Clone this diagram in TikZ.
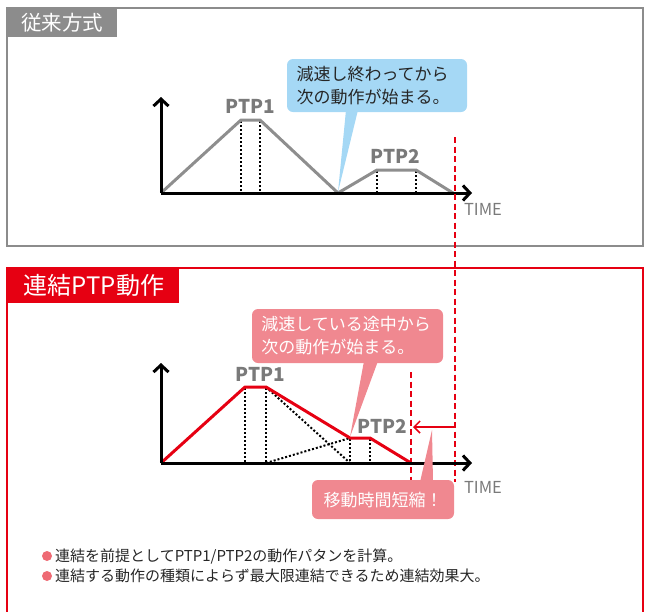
\documentclass[tikz,border=0pt]{standalone}
\usepackage{fontspec}
\setmainfont{Noto Sans CJK JP}
\usetikzlibrary{arrows.meta}
\definecolor{framegray}{HTML}{8C8C8C}
\definecolor{trajgray}{HTML}{8E8E8E}
\definecolor{labgray}{HTML}{7A7A7A}
\definecolor{mred}{HTML}{E60012}
\definecolor{bubbleblue}{HTML}{A5D8F5}
\definecolor{bubblepink}{HTML}{F08890}
\definecolor{txt}{HTML}{262626}
\definecolor{bulletpink}{HTML}{EE6A74}
\begin{document}
\begin{tikzpicture}[x=1pt,y=-1pt,
  axisline/.style={line width=3pt,black,-{Straight Barb[length=7pt,width=15pt,line width=3pt]}},
  dotline/.style={line width=2pt,black,dash pattern=on 2pt off 2pt},
  graytraj/.style={line width=3pt,trajgray,line join=round},
  redtraj/.style={line width=3pt,mred,line join=round},
  reddash/.style={line width=1.4pt,mred,dash pattern=on 6pt off 3.5pt},
  ptplab/.style={font=\fontsize{19}{19}\selectfont\bfseries,text=labgray,inner sep=0pt},
  timelab/.style={font=\fontsize{16.5}{16.5}\selectfont,text=labgray,inner sep=0pt},
  bubtxt/.style={font=\fontsize{17}{23}\selectfont,align=left,inner sep=0pt},
  bultxt/.style={font=\fontsize{15}{15}\selectfont,text=txt,anchor=west,inner sep=0pt},
  tabtxt/.style={text=white,inner sep=0pt}]
\useasboundingbox (0,0) rectangle (650,611);
% ---------- frames ----------
\draw[framegray,line width=2.5pt] (7,8) rectangle (643,246);
\fill[framegray] (6,7) rectangle (117,37);
\node[tabtxt,font=\fontsize{20.5}{20.5}\selectfont] (tabA) at (62,23) {従来方式};
\draw[mred,line width=2.5pt] (7,612) -- (7,268) -- (643,268) -- (643,612);
\fill[mred] (6,267) rectangle (179,303);
\node[tabtxt,font=\fontsize{24}{24}\selectfont] (tabB) at (94,285) {連結PTP動作};
% ---------- top plot ----------
\draw[dotline] (241,121) -- (241,193);
\draw[dotline] (260,121) -- (260,193);
\draw[dotline] (377,171) -- (377,193);
\draw[dotline] (416,171) -- (416,193);
\draw[graytraj] (161,193) -- (241,120) -- (260,120) -- (338,193) -- (377,170) -- (416,170) -- (453,193);
\coordinate (oA) at (161,193);
\coordinate (xA) at (472,193);
\coordinate (yA) at (161,97);
\draw[axisline] (oA) -- (xA);
\draw[axisline] (oA) -- (yA);
\node[ptplab] (ptp1A) at (250,106) {PTP1};
\node[ptplab] (ptp2A) at (395,156) {PTP2};
\node[timelab] (timeA) at (483,209) {TIME};
% blue bubble
\fill[bubbleblue,rounded corners=6pt] (287,59) rectangle (467,112);
\coordinate (tipA) at (338,192);
\fill[bubbleblue] (346,110) -- (358,110) -- (tipA) -- cycle;
\node[bubtxt,text=txt] (bubA) at (373,86) {減速し終わってから\\次の動作が始まる。};
% ---------- lower plot ----------
\draw[reddash] (455,137) -- (455,482);
\draw[reddash] (411,372) -- (411,482);
\draw[dotline] (245,388) -- (245,463);
\draw[dotline] (266,388) -- (266,463);
\draw[dotline] (350,439) -- (350,463);
\draw[dotline] (370,439) -- (370,463);
\draw[dotline] (266,387) -- (350,463);
\draw[dotline] (266,463) -- (350,438);
\draw[redtraj] (161,463) -- (245,387) -- (266,387) -- (350,438) -- (370,438) -- (411,463);
\coordinate (oB) at (161,463);
\coordinate (xB) at (472,463);
\coordinate (yB) at (161,363);
\draw[axisline] (oB) -- (xB);
\draw[axisline] (oB) -- (yB);
\node[ptplab] (ptp1B) at (260,374) {PTP1};
\node[ptplab] (ptp2B) at (382,426) {PTP2};
\node[timelab] (timeB) at (483,487) {TIME};
\coordinate (arS) at (455,427);
\coordinate (arE) at (413,427);
\draw[mred,line width=1.5pt,-{Straight Barb[length=6pt,width=12pt,line width=1.5pt]}] (arS) -- (arE);
% pink bubble upper
\fill[bubblepink,rounded corners=6pt] (252,309) rectangle (443,363);
\coordinate (tipB) at (350,437);
\fill[bubblepink] (364,361) -- (378,361) -- (tipB) -- cycle;
\node[bubtxt,text=white] (bubB) at (346,336) {減速している途中から\\次の動作が始まる。};
% pink bubble lower
\fill[bubblepink,rounded corners=6pt] (312,480) rectangle (454,519);
\coordinate (tipC) at (432,430);
\fill[bubblepink] (420,482) -- (433,482) -- (tipC) -- cycle;
\node[bubtxt,text=white] (bubC) at (383,500) {移動時間短縮！};
% ---------- bullets ----------
\fill[bulletpink] (47,556) circle (5);
\fill[bulletpink] (47,576) circle (5);
\node[bultxt] (b1) at (55,556) {連結を前提としてPTP1/PTP2の動作パタンを計算。};
\node[bultxt] (b2) at (55,576) {連結する動作の種類によらず最大限連結できるため連結効果大。};
\end{tikzpicture}
\end{document}
